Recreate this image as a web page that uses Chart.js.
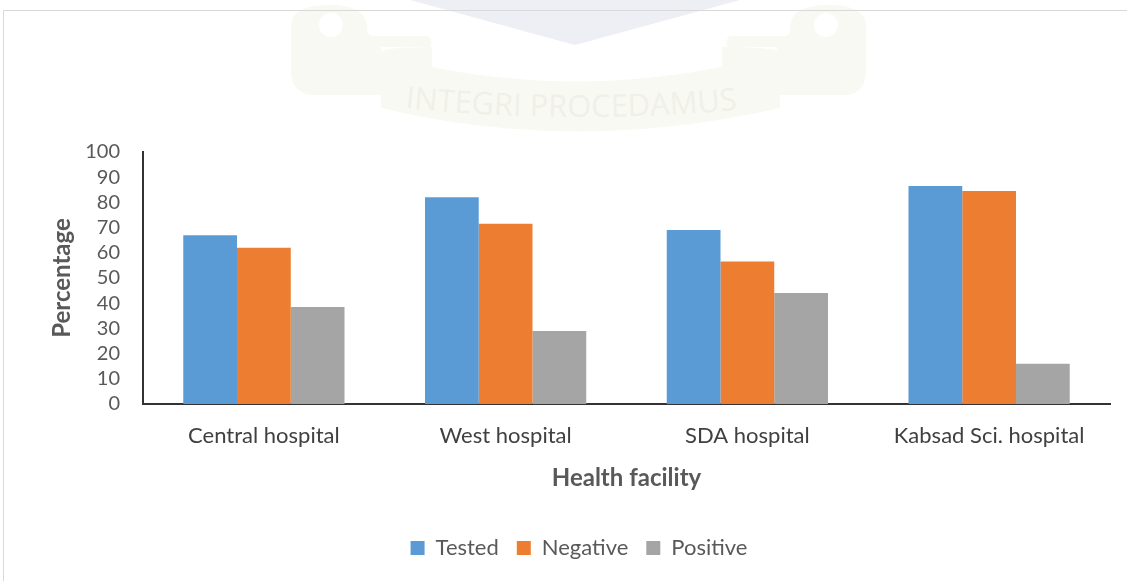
<!DOCTYPE html>
<html><head><meta charset="utf-8">
<style>
html,body{margin:0;padding:0;background:#fff;width:1127px;height:581px;overflow:hidden}
#wrap{position:relative;width:1127px;height:581px}
#bg{position:absolute;left:0;top:0}
canvas{position:absolute;left:0;top:0}
</style>
<script src="https://cdn.jsdelivr.net/npm/chart.js@4"></script>
</head><body>
<div id="wrap">
<svg id="bg" width="1127" height="581" xmlns="http://www.w3.org/2000/svg">
  <defs><path id="arc" d="M405 108 Q578 126 755 108"/></defs>
  <g fill="#f9f9f3">
    <path d="M291 25 Q292 5 330 5 Q367 5 367 28 Q367 36 372 36 L428 36 Q434 40 430 47 L381 47 L381 95 L310 95 Q291 92 291 70 Z"/>
    <path d="M866 25 Q865 5 828 5 Q790 5 790 28 Q790 36 785 36 L730 36 Q724 40 728 47 L777 47 L777 95 L848 95 Q866 92 866 70 Z"/>
    <path d="M381 53 Q381 47 432 47 L432 67 Q575 96 722 67 L722 47 Q780 47 780 53 L780 108 Q575 155 381 108 Z"/>
  </g>
  <g fill="#fff">
    <circle cx="331" cy="25" r="12"/>
    <circle cx="826" cy="25" r="12"/>
  </g>
  <path d="M410 0 L575 45 L740 0 Z" fill="#eeeef5"/>
  <text font-family="Open Sans" font-size="31" fill="#f0f0e8"><textPath href="#arc">INTEGRI PROCEDAMUS</textPath></text>
  <path d="M3.5 581 L3.5 10.5 L1127 10.5" fill="none" stroke="#d9d9d9" stroke-width="1"/>
</svg>
<canvas id="c" width="1127" height="581"></canvas>
</div>
<script>
const categories = ["Central hospital", "West hospital", "SDA hospital", "Kabsad Sci. hospital"];
const yTicks = [0, 10, 20, 30, 40, 50, 60, 70, 80, 90, 100];
const tested = [67, 82, 69, 86.5];
const negative = [62, 71.5, 56.5, 84.5];
const positive = [38.5, 29, 44, 16];

const FONT = "Lato";
const TXT = "#595959";
new Chart(document.getElementById("c"), {
  type: "bar",
  data: {
    labels: categories,
    datasets: [
      {label: "Tested", data: tested, backgroundColor: "#5B9BD5"},
      {label: "Negative", data: negative, backgroundColor: "#ED7D31"},
      {label: "Positive", data: positive, backgroundColor: "#A5A5A5"}
    ]
  },
  options: {
    responsive: false,
    animation: false,
    datasets: {bar: {categoryPercentage: 0.667, barPercentage: 1}},
    layout: {padding: {top: 152, right: 17, left: 48, bottom: 12}},
    plugins: {
      title: {display: false},
      tooltip: {enabled: false},
      legend: {
        position: "bottom",
        labels: {boxWidth: 14, boxHeight: 14, padding: 18, color: TXT, font: {family: FONT, size: 22}}
      }
    },
    scales: {
      x: {
        grid: {display: false, drawTicks: false},
        border: {color: "#333333", width: 2},
        ticks: {color: "#404040", font: {family: FONT, size: 22}, padding: 19, maxRotation: 0},
        title: {display: true, text: "Health facility", color: TXT, font: {family: FONT, size: 24, weight: "bold"}, padding: {top: 10, bottom: 26}},
        afterFit(s) { s.height = 115; }
      },
      y: {
        min: 0, max: 100,
        afterBuildTicks(s) { s.ticks = yTicks.map(v => ({value: v})); },
        grid: {display: false, drawTicks: false},
        border: {color: "#333333", width: 2},
        ticks: {color: TXT, font: {family: FONT, size: 20}, padding: 23, autoSkip: false},
        title: {display: true, text: "Percentage", color: TXT, font: {family: FONT, size: 24, weight: "bold"}, padding: {top: 0, bottom: 0}},
        afterFit(s) { s.width = 95; }
      }
    }
  }
});
</script>
</body></html>
